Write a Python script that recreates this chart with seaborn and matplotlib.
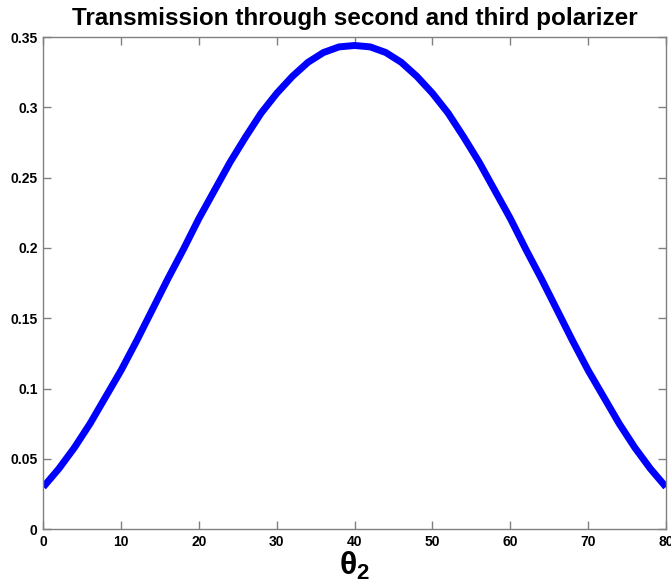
import numpy as np
import pandas as pd
import seaborn as sns
import matplotlib.pyplot as plt
from matplotlib.ticker import FormatStrFormatter

sns.set_style('ticks')
plt.rcParams['font.family'] = ['Liberation Sans', 'DejaVu Sans']
plt.rcParams['text.color'] = 'black'
plt.rcParams['axes.labelcolor'] = 'black'
plt.rcParams['xtick.labelcolor'] = 'black'
plt.rcParams['ytick.labelcolor'] = 'black'
plt.rcParams['mathtext.fontset'] = 'custom'
plt.rcParams['mathtext.rm'] = 'Liberation Sans'
plt.rcParams['mathtext.bf'] = 'Liberation Sans:bold'

# transmission, theta2 in degrees
theta2 = list(range(0, 81, 2))
transmission = [0.030, 0.043, 0.058, 0.075, 0.094, 0.113, 0.134, 0.156, 0.178, 0.199,
                0.221, 0.241, 0.261, 0.279, 0.296, 0.310, 0.322, 0.332, 0.339, 0.343,
                0.344,
                0.343, 0.339, 0.332, 0.322, 0.310, 0.296, 0.279, 0.261, 0.241, 0.221,
                0.199, 0.178, 0.156, 0.134, 0.113, 0.094, 0.075, 0.058, 0.043, 0.030]
xticks = [0, 10, 20, 30, 40, 50, 60, 70, 80]
yticks = [0, 0.05, 0.1, 0.15, 0.2, 0.25, 0.3, 0.35]

df = pd.DataFrame({'theta2': theta2, 'transmission': transmission})

fig = plt.figure(figsize=(6.71, 5.88), dpi=100)
ax = fig.add_axes([0.0645, 0.1, 0.928, 0.837])
sns.lineplot(data=df, x='theta2', y='transmission', color='#0000ff', linewidth=5,
             solid_joinstyle='round', solid_capstyle='butt', ax=ax)

ax.set_xlim(0, 80)
ax.set_ylim(0, 0.35)
ax.set_xticks(xticks)
ax.set_yticks(yticks)
ax.yaxis.set_major_formatter(FormatStrFormatter('%g'))
ax.tick_params(direction='in', length=6, width=1, color='#808080',
               top=True, right=True, labelsize=10, pad=4)
for lab in ax.get_xticklabels() + ax.get_yticklabels():
    lab.set_fontweight('bold')
for s in ax.spines.values():
    s.set_visible(True)
    s.set_color('#808080')
    s.set_linewidth(1)

ax.set_title('Transmission through second and third polarizer',
             fontsize=17.5, fontweight='bold', pad=9, color='black')
ax.set_xlabel(r'$\mathbf{\theta_2}$', fontsize=23, labelpad=1)
ax.set_ylabel('')

fig.savefig('out.png', dpi=100)
